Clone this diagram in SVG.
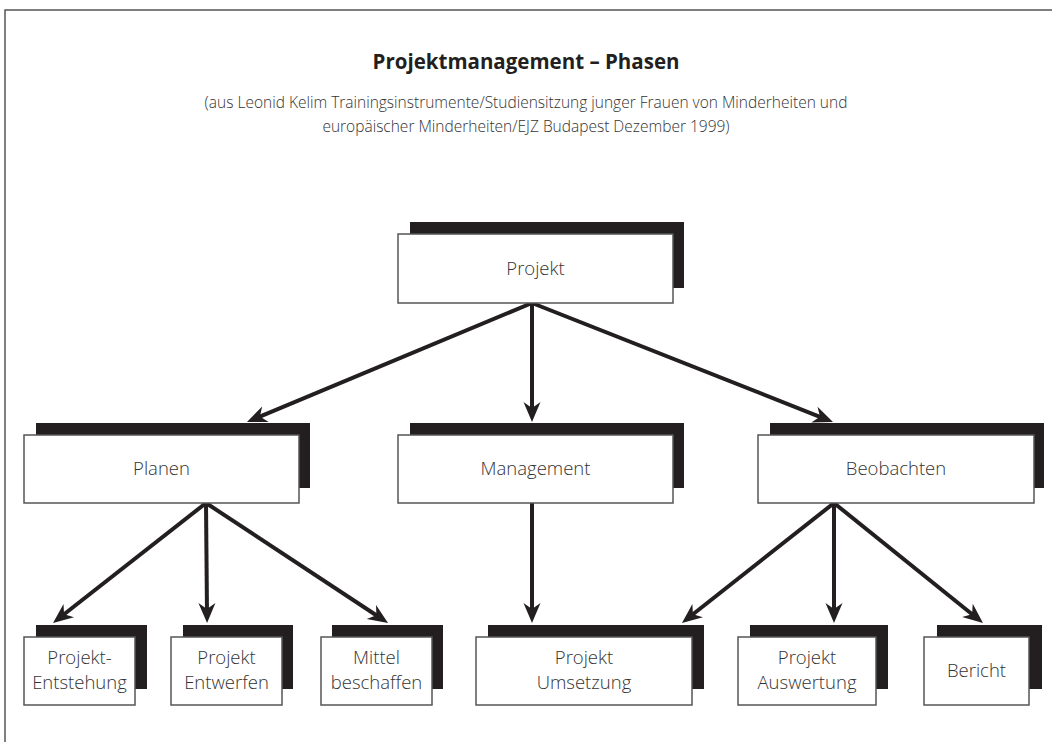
<svg xmlns="http://www.w3.org/2000/svg" width="1052" height="742" viewBox="0 0 1052 742">
  <defs>
    <style>
      .frame { fill: none; stroke: #555; stroke-width: 1.5; }
      .shadow { fill: #231f20; }
      .box { fill: #fff; stroke: #555; stroke-width: 1.5; }
      .label { font-family: "Open Sans", "Liberation Sans", sans-serif; font-size: 18.5px; font-weight: 300; fill: #333; text-anchor: middle; }
      .title { font-family: "Open Sans", "Liberation Sans", sans-serif; font-size: 20.5px; font-weight: 700; fill: #231f20; text-anchor: middle; }
      .sub { font-family: "Open Sans", "Liberation Sans", sans-serif; font-size: 15.5px; font-weight: 300; fill: #333; text-anchor: middle; }
      .edge { fill: none; stroke: #231f20; stroke-width: 4; marker-end: url(#head); }
    </style>
    <marker id="head" markerUnits="userSpaceOnUse" markerWidth="30" markerHeight="30" viewBox="-15 -15 30 30" refX="0" refY="0" orient="auto">
      <path d="M10,0 L-10,-8.5 L-4,0 L-10,8.5 Z" fill="#231f20"/>
    </marker>
  </defs>

  <rect width="1052" height="742" fill="#fff"/>
  <!-- page frame (left and top edges) -->
  <path class="frame" d="M5,742 V10 H1052"/>

  <!-- heading -->
  <text class="title" x="526" y="69">Projektmanagement – Phasen</text>
  <text class="sub" x="526" y="108">(aus Leonid Kelim Trainingsinstrumente/Studiensitzung junger Frauen von Minderheiten und</text>
  <text class="sub" x="526" y="132">europäischer Minderheiten/EJZ Budapest Dezember 1999)</text>

  <!-- connectors -->
  <g id="connectors">
    <line class="edge" x1="532" y1="303" x2="256.2" y2="418.1"/>
    <line class="edge" x1="532" y1="303" x2="532" y2="412"/>
    <line class="edge" x1="532" y1="303" x2="823.7" y2="418.3"/>
    <line class="edge" x1="206" y1="503" x2="60.9" y2="616.8"/>
    <line class="edge" x1="206" y1="503" x2="207" y2="613"/>
    <line class="edge" x1="206" y1="503" x2="379.7" y2="617.5"/>
    <line class="edge" x1="532" y1="503" x2="532" y2="613"/>
    <line class="edge" x1="834" y1="503" x2="689.8" y2="616.8"/>
    <line class="edge" x1="834" y1="503" x2="834" y2="613"/>
    <line class="edge" x1="834" y1="503" x2="975.2" y2="616.7"/>
  </g>

  <!-- top level -->
  <g id="projekt">
    <rect class="shadow" x="410" y="222" width="274" height="66"/>
    <rect class="box" x="398" y="234" width="275" height="69"/>
    <text class="label" x="535.5" y="275">Projekt</text>
  </g>

  <!-- second level -->
  <g id="planen">
    <rect class="shadow" x="36" y="423" width="274" height="65"/>
    <rect class="box" x="24" y="435" width="275" height="68"/>
    <text class="label" x="161.5" y="475">Planen</text>
  </g>
  <g id="management">
    <rect class="shadow" x="410" y="423" width="274" height="65"/>
    <rect class="box" x="398" y="435" width="275" height="68"/>
    <text class="label" x="535.5" y="475">Management</text>
  </g>
  <g id="beobachten">
    <rect class="shadow" x="770" y="423" width="274" height="65"/>
    <rect class="box" x="758" y="435" width="276" height="68"/>
    <text class="label" x="896" y="475">Beobachten</text>
  </g>

  <!-- third level -->
  <g id="projekt-entstehung">
    <rect class="shadow" x="36" y="625" width="111" height="64"/>
    <rect class="box" x="24" y="637" width="111" height="68"/>
    <text class="label" x="79.5" y="664">Projekt-</text>
    <text class="label" x="79.5" y="689">Entstehung</text>
  </g>
  <g id="projekt-entwerfen">
    <rect class="shadow" x="183" y="625" width="110" height="64"/>
    <rect class="box" x="171" y="637" width="111" height="68"/>
    <text class="label" x="226.5" y="664">Projekt</text>
    <text class="label" x="226.5" y="689">Entwerfen</text>
  </g>
  <g id="mittel-beschaffen">
    <rect class="shadow" x="332" y="625" width="111" height="64"/>
    <rect class="box" x="321" y="637" width="111" height="68"/>
    <text class="label" x="376.5" y="664">Mittel</text>
    <text class="label" x="376.5" y="689">beschaffen</text>
  </g>
  <g id="projekt-umsetzung">
    <rect class="shadow" x="488" y="625" width="216" height="64"/>
    <rect class="box" x="476" y="637" width="216" height="68"/>
    <text class="label" x="584" y="664">Projekt</text>
    <text class="label" x="584" y="689">Umsetzung</text>
  </g>
  <g id="projekt-auswertung">
    <rect class="shadow" x="750" y="625" width="138" height="64"/>
    <rect class="box" x="738" y="637" width="138" height="68"/>
    <text class="label" x="807" y="664">Projekt</text>
    <text class="label" x="807" y="689">Auswertung</text>
  </g>
  <g id="bericht">
    <rect class="shadow" x="937" y="625" width="105" height="64"/>
    <rect class="box" x="924" y="637" width="105" height="68"/>
    <text class="label" x="976.5" y="677">Bericht</text>
  </g>
</svg>
